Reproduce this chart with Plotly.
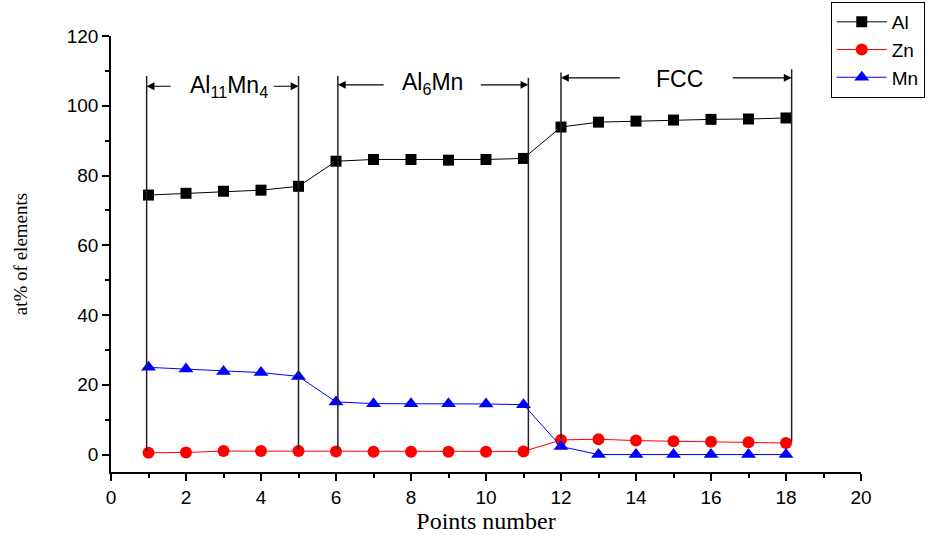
import plotly.graph_objects as go

points = list(range(1, 19))
al = [74.4, 74.9, 75.5, 75.8, 76.9, 84.1, 84.6, 84.6, 84.4, 84.6, 84.9,
      93.9, 95.3, 95.6, 95.9, 96.1, 96.2, 96.5]
zn = [0.5, 0.6, 1.0, 1.0, 1.0, 0.9, 0.8, 0.8, 0.8, 0.8, 0.9,
      4.2, 4.4, 4.0, 3.8, 3.7, 3.5, 3.3]
mn = [25.0, 24.5, 23.8, 23.5, 22.4, 15.1, 14.6, 14.6, 14.6, 14.5, 14.3,
      2.3, 0.0, 0.0, 0.0, 0.0, 0.0, 0.0]

phase_names = ["Al<sub>11</sub>Mn<sub>4</sub>", "Al<sub>6</sub>Mn", "FCC"]
phase_start = [1, 6, 12]
phase_end = [5, 11, 18]

fig = go.Figure()
fig.add_trace(go.Scatter(x=points, y=al, name="Al", mode="lines+markers",
                         line=dict(color="black", width=1),
                         marker=dict(symbol="square", size=11, color="black")))
fig.add_trace(go.Scatter(x=points, y=zn, name="Zn", mode="lines+markers",
                         line=dict(color="red", width=1),
                         marker=dict(symbol="circle", size=12, color="red")))
fig.add_trace(go.Scatter(x=points, y=mn, name="Mn", mode="lines+markers",
                         line=dict(color="blue", width=1),
                         marker=dict(symbol="triangle-up", size=13, color="blue")))

# phase boundary lines (slight offsets as in the drawing)
line_off_start = [-0.05, 0.05, 0.0]
line_off_end = [0.0, 0.13, 0.15]
line_top_start = [108.5, 108.5, 109.5]
line_top_end = [108.5, 108.0, 110.5]
arrow_y = [105.6, 106.0, 108.0]
label_x = [3.15, 8.57, 15.15]
label_y = [105.4, 106.3, 107.6]
inner_left = [1.63, 7.31, 13.61]
inner_right = [4.30, 9.82, 16.54]

for i in range(3):
    xs = phase_start[i] + line_off_start[i]
    xe = phase_end[i] + line_off_end[i]
    fig.add_shape(type="line", x0=xs, x1=xs, y0=zn[phase_start[i] - 1] + 0.5,
                  y1=line_top_start[i], line=dict(color="#222", width=1.5))
    fig.add_shape(type="line", x0=xe, x1=xe, y0=zn[phase_end[i] - 1] + 0.5,
                  y1=line_top_end[i], line=dict(color="#222", width=1.5))
    fig.add_annotation(x=xs, y=arrow_y[i], ax=inner_left[i], ay=arrow_y[i],
                       xref="x", yref="y", axref="x", ayref="y", text="",
                       showarrow=True, arrowhead=2, arrowsize=1.3, arrowwidth=1.2,
                       arrowcolor="black")
    fig.add_annotation(x=xe, y=arrow_y[i], ax=inner_right[i], ay=arrow_y[i],
                       xref="x", yref="y", axref="x", ayref="y", text="",
                       showarrow=True, arrowhead=2, arrowsize=1.3, arrowwidth=1.2,
                       arrowcolor="black")
    fig.add_annotation(x=label_x[i], y=label_y[i], text=phase_names[i],
                       showarrow=False,
                       font=dict(family="Liberation Sans, Arial", size=23, color="black"))

fig.update_layout(
    width=932, height=544,
    margin=dict(l=111, r=71, t=36, b=72, autoexpand=False),
    paper_bgcolor="white", plot_bgcolor="white",
    font=dict(family="Liberation Sans, Arial", size=19, color="black"),
    legend=dict(x=1.085, xanchor="right", y=1.078, yanchor="top",
                bordercolor="black", borderwidth=1,
                font=dict(family="Liberation Sans, Arial", size=19),
                tracegroupgap=0, itemwidth=50),
    showlegend=True,
)
fig.update_xaxes(range=[0, 20], dtick=2, tick0=0, showgrid=False, zeroline=False,
                 showline=True, linecolor="black", linewidth=1.5,
                 ticks="outside", ticklen=7, tickcolor="black", tickwidth=1.5,
                 minor=dict(ticks="outside", ticklen=4, dtick=1, tickcolor="black", tickwidth=1.5),
                 title=dict(text="Points number",
                            font=dict(family="Liberation Serif, Times New Roman", size=24),
                            standoff=6))
fig.update_yaxes(range=[-5, 120], dtick=20, tick0=0, showgrid=False, zeroline=False,
                 showline=True, linecolor="black", linewidth=1.5,
                 ticks="outside", ticklen=7, tickcolor="black", tickwidth=1.5,
                 minor=dict(ticks="outside", ticklen=4, dtick=10, tickcolor="black", tickwidth=1.5),
                 title=dict(text="at% of elements",
                            font=dict(family="Liberation Serif, Times New Roman", size=19),
                            standoff=34))

fig.write_html("out.html")
